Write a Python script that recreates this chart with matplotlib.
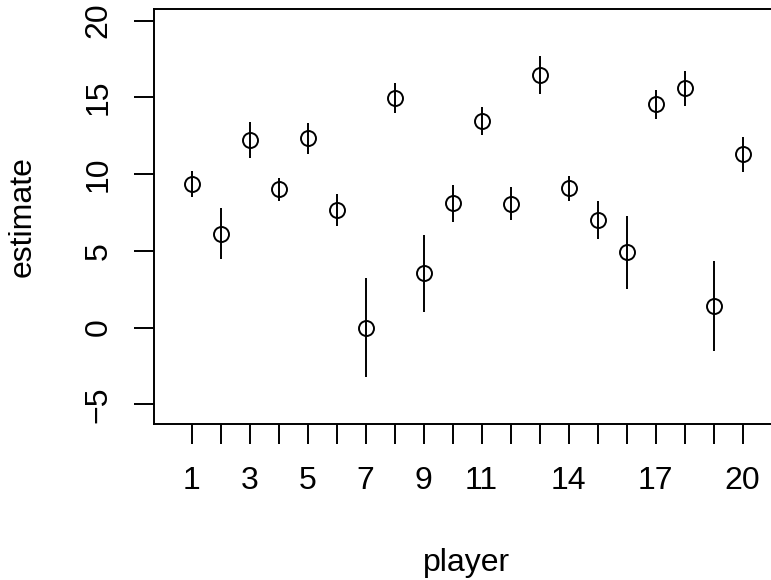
import numpy as np
import matplotlib.pyplot as plt

plt.rcParams['font.family'] = ['Liberation Sans', 'DejaVu Sans']

# estimates per player with lower / upper interval ends
players = list(range(1, 21))
estimate = [9.35, 6.11, 12.24, 9.02, 12.35, 7.67, 0.0, 14.97, 3.55, 8.11,
            13.47, 8.06, 16.45, 9.09, 7.02, 4.91, 14.56, 15.58, 1.43, 11.30]
lower = [8.48, 4.48, 11.08, 8.26, 11.30, 6.63, -3.23, 13.98, 1.04, 6.91,
         12.56, 6.98, 15.19, 8.28, 5.80, 2.50, 13.62, 14.47, -1.52, 10.17]
upper = [10.22, 7.78, 13.37, 9.74, 13.32, 8.72, 3.22, 15.97, 6.02, 9.30,
         14.37, 9.13, 17.71, 9.89, 8.24, 7.24, 15.50, 16.73, 4.35, 12.39]
shown_labels = [1, 3, 5, 7, 9, 11, 14, 17, 20]
y_ticks = [-5, 0, 5, 10, 15, 20]

W, H = 771, 580
fig = plt.figure(figsize=(W / 100, H / 100), dpi=100)
# plot region runs past the right edge of the image, as in the original
ax = fig.add_axes([154.3 / W, (H - 424) / H, (780 - 154.3) / W, (424 - 9.3) / H])

ax.vlines(players, lower, upper, color='black', linewidth=1.4)
ax.plot(players, estimate, 'o', markersize=10.8, markerfacecolor='none',
        markeredgecolor='black', markeredgewidth=1.4)

ax.set_xlim(-0.29, 21.29)
ax.set_ylim(-6.28, 20.74)

ax.set_xticks(players)
ax.set_xticklabels([str(p) if p in shown_labels else '' for p in players])
ax.set_yticks(y_ticks)
ax.set_yticklabels([str(v).replace('-', '\u2212') for v in y_ticks])

ax.tick_params(axis='both', direction='out', length=14.4, width=1.4,
               labelsize=23, colors='black')
ax.tick_params(axis='x', pad=16)
ax.tick_params(axis='y', pad=15)
for lab in ax.get_yticklabels():
    lab.set_rotation(90)
    lab.set_va('center')
    lab.set_ha('right')

for s in ax.spines.values():
    s.set_linewidth(1.4)

fig.text(22.7 / W, 0.5 * ((H - 424) + (H - 9.3)) / H, 'estimate', rotation=90,
         ha='center', va='center', fontsize=23)
fig.text(467 / W, 9 / H, 'player', ha='center', va='baseline', fontsize=23)

fig.savefig('out.png', dpi=100)
